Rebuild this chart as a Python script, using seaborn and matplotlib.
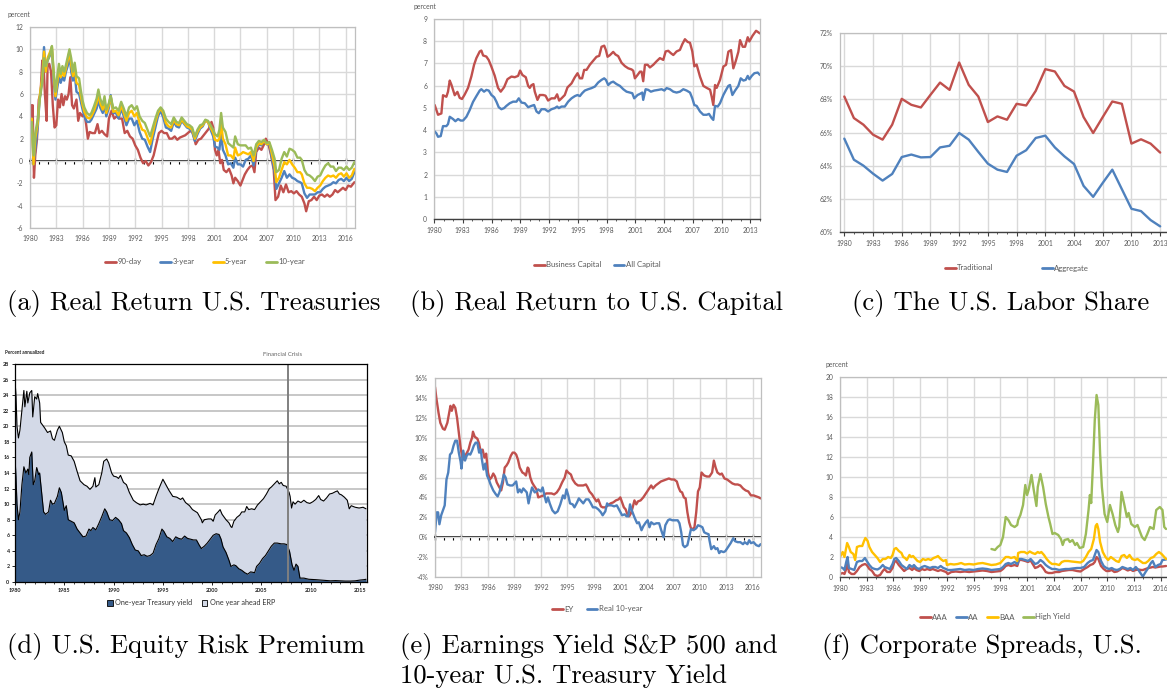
import numpy as np
import pandas as pd
import matplotlib
matplotlib.use("Agg")
import matplotlib.pyplot as plt
import seaborn as sns
from matplotlib.ticker import MultipleLocator, FuncFormatter
from matplotlib.lines import Line2D
from matplotlib.patches import Patch

# ---------------- DATA ----------------
# (a) Real return U.S. Treasuries (percent)
A_YEARS = [
    1980.0, 1980.2, 1980.4, 1980.6, 1980.9,
    1981.1, 1981.4, 1981.6, 1981.8,
    1982.0, 1982.3, 1982.5, 1982.7, 1982.9,
    1983.1, 1983.3, 1983.5, 1983.7, 1983.9,
    1984.1, 1984.3, 1984.5, 1984.7, 1984.9,
    1985.1, 1985.3, 1985.6, 1985.8,
    1986.0, 1986.2, 1986.5, 1986.8,
    1987.0, 1987.3, 1987.6, 1987.8,
    1988.0, 1988.3, 1988.5, 1988.7,
    1989.0, 1989.2, 1989.5, 1989.8,
    1990.1, 1990.4, 1990.7,
    1991.0, 1991.3, 1991.6, 1991.9,
    1992.2, 1992.5, 1992.8,
    1993.1, 1993.4, 1993.7,
    1994.0, 1994.3, 1994.6, 1994.9,
    1995.2, 1995.5, 1995.8,
    1996.1, 1996.4, 1996.7,
    1997.0, 1997.3, 1997.6, 1997.9,
    1998.2, 1998.5, 1998.8,
    1999.1, 1999.4, 1999.7,
    2000.0, 2000.3, 2000.6, 2000.9,
    2001.1, 2001.4, 2001.6, 2001.8,
    2002.0, 2002.3, 2002.6, 2002.9,
    2003.2, 2003.4, 2003.7,
    2004.0, 2004.3, 2004.6, 2004.9,
    2005.2, 2005.5, 2005.8,
    2006.1, 2006.4, 2006.7,
    2007.0, 2007.3, 2007.6, 2007.9,
    2008.1, 2008.4, 2008.7,
    2009.0, 2009.3, 2009.6, 2009.9,
    2010.2, 2010.5, 2010.8,
    2011.0, 2011.3, 2011.6, 2011.9,
    2012.2, 2012.5, 2012.8,
    2013.1, 2013.4, 2013.7,
    2014.0, 2014.3, 2014.6, 2014.9,
    2015.2, 2015.5, 2015.8,
    2016.1, 2016.4, 2016.7,
    2017.0]
A_10Y = [
    2.5, 3.5, 0.5, 2.5, 3.8,
    5.5, 7.0, 9.2, 8.5,
    9.0, 9.6, 10.3, 8.0, 6.2,
    7.5, 8.7, 7.8, 8.5, 8.0,
    8.6, 9.3, 10.0, 9.2, 8.0,
    8.8, 7.6, 7.4, 6.3,
    5.4, 4.8, 4.3, 4.1,
    4.3, 4.9, 5.6, 6.4,
    5.6, 5.0, 5.8, 4.6,
    5.2, 5.8, 4.7, 4.8,
    4.5, 5.3, 4.7,
    4.0, 4.8, 5.0, 4.6,
    4.9, 4.0, 3.6,
    3.4, 2.8, 2.2,
    3.0, 3.8, 4.5, 4.8,
    4.5, 3.8, 3.5,
    3.3, 3.9, 3.5,
    3.4, 3.9, 3.6, 3.3,
    3.2, 3.0, 2.2,
    2.8, 3.2, 3.3,
    3.7, 3.6, 3.2, 2.8,
    2.4, 2.2, 2.8, 4.3,
    3.0, 2.6, 1.6, 1.4,
    1.2, 2.2, 1.5,
    1.4, 1.4, 1.4, 1.1,
    1.2, 0.5, 1.5,
    1.8, 1.7, 1.9,
    1.6, 1.7, 1.0, 0.2,
    -1.0, -0.8, 0.2,
    0.8, 0.4, 1.1, 1.0,
    0.8, 0.3, 0.3,
    0.1, -0.8, -1.2, -1.3,
    -1.5, -1.8, -1.4,
    -1.3, -0.8, -0.4,
    -0.2, -0.5, -0.5, -0.9,
    -0.6, -0.6, -0.8,
    -0.5, -0.8, -0.6,
    -0.1]
A_5Y = [
    2.0, 3.8, -0.3, 2.0, 3.5,
    5.8, 7.5, 9.8, 8.0,
    9.2, 9.8, 10.2, 7.8, 5.8,
    7.0, 8.2, 7.5, 8.0, 7.6,
    8.3, 9.0, 9.8, 8.6, 7.6,
    8.4, 7.0, 6.8, 5.8,
    5.0, 4.4, 3.9, 3.8,
    4.0, 4.5, 5.2, 6.0,
    5.2, 4.6, 5.4, 4.3,
    5.0, 5.8, 4.4, 4.5,
    4.1, 5.0, 4.3,
    3.6, 4.3, 4.5, 4.0,
    4.3, 3.4, 2.8,
    2.7, 2.1, 1.5,
    2.5, 3.5, 4.3, 4.7,
    4.3, 3.4, 3.1,
    3.0, 3.7, 3.3,
    3.2, 3.7, 3.4, 3.1,
    3.0, 2.8, 2.0,
    2.6, 3.0, 3.2,
    3.6, 3.5, 3.0, 2.5,
    1.9, 1.8, 2.0, 3.5,
    2.0, 1.5, 0.5, 0.5,
    0.2, 1.2, 0.5,
    0.6, 0.8, 0.7, 0.6,
    0.8, 0.0, 1.2,
    1.6, 1.5, 1.8,
    1.5, 1.6, 0.6, -0.5,
    -1.9, -1.5, -0.8,
    -0.1, -0.3, 0.1, -0.3,
    -0.6, -1.0, -1.0,
    -1.2, -2.0, -2.4, -2.4,
    -2.5, -2.7, -2.4,
    -2.2, -1.8, -1.5,
    -1.3, -1.4, -1.3, -1.5,
    -1.2, -1.1, -1.4,
    -1.1, -1.5, -1.3,
    -0.7]
A_3Y = [
    3.0, 3.8, -0.3, 1.0, 3.2,
    5.5, 7.5, 10.2, 8.0,
    9.0, 9.5, 10.0, 7.2, 5.5,
    6.5, 7.5, 7.0, 7.5, 7.2,
    8.0, 8.5, 9.5, 8.0, 7.2,
    7.8, 6.2, 6.0, 5.3,
    4.6, 4.0, 3.5, 3.5,
    3.7, 4.2, 4.7, 5.5,
    4.8, 4.3, 5.0, 4.0,
    4.8, 5.9, 4.3, 4.3,
    3.8, 4.7, 4.0,
    3.2, 3.8, 3.8, 3.2,
    3.6, 2.6, 2.0,
    1.9, 1.3, 0.8,
    2.0, 3.0, 4.0, 4.5,
    3.9, 3.0, 2.9,
    2.7, 3.5, 3.1,
    3.0, 3.6, 3.3, 3.0,
    2.9, 2.6, 1.8,
    2.4, 2.9, 3.1,
    3.6, 3.5, 2.8, 2.2,
    1.3, 1.2, 1.0, 2.4,
    1.0, 0.5, -0.3, -0.2,
    -0.6, 0.3, -0.3,
    -0.3, -0.5, 0.1, 0.2,
    0.5, -0.4, 1.0,
    1.5, 1.4, 1.8,
    1.5, 1.5, 0.2, -1.0,
    -2.5, -2.0, -1.5,
    -0.9, -1.5, -1.2, -1.5,
    -1.6, -1.8, -1.9,
    -2.0, -2.9, -3.3, -3.0,
    -3.0, -3.0, -2.8,
    -2.8, -2.5, -2.3,
    -2.2, -2.1, -1.9, -2.0,
    -1.7, -1.6, -1.8,
    -1.5, -1.8, -1.6,
    -1.0]
A_90D_YEARS = [
    1980.0, 1980.1, 1980.2, 1980.3, 1980.45, 1980.6, 1980.8,
    1981.0, 1981.2, 1981.4, 1981.55, 1981.7, 1981.9,
    1982.0, 1982.2, 1982.4, 1982.6, 1982.8,
    1983.0, 1983.2, 1983.4, 1983.6, 1983.8,
    1984.0, 1984.2, 1984.4, 1984.6, 1984.8,
    1985.0, 1985.3, 1985.5, 1985.7,
    1986.0, 1986.2, 1986.4, 1986.6, 1986.8,
    1987.1, 1987.4, 1987.7, 1987.9,
    1988.2, 1988.5, 1988.8,
    1989.0, 1989.3, 1989.6, 1989.9,
    1990.2, 1990.5, 1990.8,
    1991.1, 1991.4, 1991.7,
    1992.0, 1992.3, 1992.6, 1992.9,
    1993.2, 1993.5, 1993.8,
    1994.1, 1994.4, 1994.7,
    1995.0, 1995.3, 1995.6, 1995.9,
    1996.2, 1996.5, 1996.8,
    1997.1, 1997.4, 1997.7,
    1998.0, 1998.3, 1998.6, 1998.9,
    1999.2, 1999.5, 1999.8,
    2000.1, 2000.4, 2000.7, 2000.9,
    2001.1, 2001.3, 2001.5, 2001.7, 2001.9,
    2002.1, 2002.4, 2002.7,
    2003.0, 2003.2, 2003.4, 2003.7,
    2004.0, 2004.2, 2004.5, 2004.8,
    2005.1, 2005.4, 2005.6, 2005.8,
    2006.1, 2006.4, 2006.7, 2006.9,
    2007.2, 2007.5, 2007.8,
    2008.0, 2008.3, 2008.6, 2008.9,
    2009.2, 2009.5, 2009.8,
    2010.1, 2010.4, 2010.7,
    2011.0, 2011.3, 2011.5, 2011.8,
    2012.1, 2012.4, 2012.7,
    2013.0, 2013.3, 2013.6, 2013.9,
    2014.2, 2014.5, 2014.8,
    2015.1, 2015.4, 2015.7,
    2016.0, 2016.3, 2016.6,
    2017.0]
A_90D = [
    2.0, 5.0, 3.0, 5.0, -1.5, 0.5, 2.0,
    5.5, 6.0, 9.0, 8.5, 6.0, 3.6,
    8.5, 8.7, 8.0, 5.0, 3.0,
    3.2, 5.5, 4.8, 6.0, 5.0,
    5.8, 5.5, 6.0, 7.5, 5.0,
    4.7, 5.5, 3.6, 4.3,
    4.0, 4.3, 3.3, 2.0, 2.6,
    2.5, 2.5, 3.3, 2.5,
    2.7, 2.4, 2.2,
    3.8, 4.5, 3.8, 4.0,
    3.8, 3.8, 2.5,
    2.7, 2.2, 2.0,
    1.4, 1.0, 0.3, -0.2,
    0.0, -0.4, -0.1,
    0.5, 1.5, 2.5,
    2.7, 2.5, 2.5, 2.0,
    2.0, 2.2, 1.9,
    2.1, 2.2, 2.3,
    2.5, 2.7, 2.5, 1.5,
    1.9, 2.0, 2.3,
    2.6, 2.9, 3.5, 3.0,
    1.0, 0.5, 1.0, -0.2, 0.1,
    -0.8, -1.0, -0.7,
    -1.3, -2.0, -1.5, -1.8,
    -2.2, -1.8, -1.2, -0.8,
    -0.5, -0.4, -1.0, 0.8,
    1.2, 1.0, 1.5, 2.0,
    1.5, 0.5, -0.8,
    -3.5, -3.2, -2.2, -2.8,
    -2.1, -2.8, -2.7,
    -2.9, -2.7, -3.0,
    -3.2, -3.8, -4.5, -3.6,
    -3.5, -3.2, -3.5,
    -3.1, -3.0, -3.2, -3.0,
    -3.2, -3.0, -2.6,
    -2.8, -2.6, -2.4,
    -2.6, -2.2, -2.3,
    -1.9]

# (b) Real return to U.S. capital (percent)
B_BUS_YEARS = [1980.07, 1980.42, 1980.77, 1980.94, 1981.29, 1981.46, 1981.64, 1981.81, 1982.16, 1982.44,
               1982.68, 1982.92, 1983.2, 1983.55, 1983.9, 1984.18, 1984.42, 1984.77, 1984.94, 1985.12,
               1985.46, 1985.71, 1985.99, 1986.33, 1986.68, 1986.96, 1987.31, 1987.66, 1988.08, 1988.42,
               1988.77, 1988.98, 1989.22, 1989.57, 1989.82, 1989.99, 1990.16, 1990.37, 1990.51, 1990.79,
               1991.03, 1991.38, 1991.63, 1991.9, 1992.25, 1992.6, 1992.84, 1993.05, 1993.3, 1993.64,
               1993.92, 1994.34, 1994.69, 1994.97, 1995.21, 1995.45, 1995.66, 1995.91, 1996.25, 1996.6,
               1996.95, 1997.23, 1997.47, 1997.75, 1997.93, 1998.1, 1998.34, 1998.69, 1998.93, 1999.21,
               1999.56, 1999.91, 2000.26, 2000.61, 2000.78, 2000.95, 2001.23, 2001.48, 2001.65, 2001.82,
               2002.0, 2002.28, 2002.52, 2002.87, 2003.22, 2003.56, 2003.91, 2004.16, 2004.43, 2004.71,
               2004.96, 2005.3, 2005.65, 2005.9, 2006.17, 2006.45, 2006.7, 2006.94, 2007.15, 2007.39,
               2007.74, 2008.09, 2008.44, 2008.79, 2008.96, 2009.13, 2009.31, 2009.48, 2009.83, 2010.18,
               2010.46, 2010.7, 2010.98, 2011.22, 2011.46, 2011.74, 2011.92, 2012.2, 2012.44, 2012.72,
               2012.89, 2013.21, 2013.59, 2014.0]
B_BUS = [5.13, 4.69, 4.75, 5.57, 5.5, 5.73, 6.23, 6.05, 5.57, 5.72,
         5.45, 5.4, 5.6, 5.9, 6.42, 6.94, 7.24, 7.54, 7.58, 7.36,
         7.31, 7.15, 6.85, 6.45, 5.9, 5.73, 5.93, 6.29, 6.41, 6.38,
         6.44, 6.68, 6.48, 6.38, 5.99, 5.9, 6.02, 6.07, 5.73, 5.36,
         5.58, 5.58, 5.55, 5.33, 5.43, 5.43, 5.61, 5.33, 5.43, 5.58,
         5.92, 6.1, 6.38, 6.56, 6.33, 6.33, 6.71, 6.71, 6.94, 7.12,
         7.3, 7.34, 7.75, 7.8, 7.6, 7.3, 7.37, 7.52, 7.4, 7.33,
         7.03, 6.88, 6.78, 6.73, 6.67, 6.33, 6.48, 6.63, 6.63, 6.2,
         6.94, 6.94, 6.82, 6.94, 7.1, 7.24, 7.16, 7.54, 7.57, 7.46,
         7.38, 7.54, 7.61, 7.87, 8.09, 7.97, 7.93, 7.54, 6.87, 6.95,
         6.41, 5.99, 5.9, 5.82, 5.51, 5.13, 6.03, 5.9, 6.26, 6.86,
         6.94, 7.53, 7.6, 6.78, 7.09, 7.52, 8.05, 7.75, 7.75, 8.18,
         7.99, 8.24, 8.47, 8.35]
B_ALL_YEARS = [1980.0, 1980.24, 1980.42, 1980.7, 1980.94, 1981.29, 1981.46, 1981.64, 1981.98, 1982.23,
               1982.51, 1982.78, 1983.03, 1983.38, 1983.72, 1984.07, 1984.42, 1984.77, 1984.94, 1985.22,
               1985.46, 1985.71, 1985.99, 1986.27, 1986.51, 1986.75, 1987.03, 1987.31, 1987.55, 1987.9,
               1988.25, 1988.6, 1988.84, 1989.12, 1989.47, 1989.82, 1990.16, 1990.44, 1990.69, 1990.93,
               1991.21, 1991.56, 1991.9, 1992.25, 1992.6, 1992.84, 1993.02, 1993.3, 1993.64, 1993.99,
               1994.34, 1994.69, 1994.97, 1995.21, 1995.45, 1995.73, 1996.08, 1996.43, 1996.78, 1997.12,
               1997.47, 1997.75, 1997.93, 1998.17, 1998.45, 1998.69, 1999.04, 1999.39, 1999.74, 2000.08,
               2000.43, 2000.68, 2000.88, 2001.23, 2001.48, 2001.72, 2001.82, 2002.07, 2002.35, 2002.62,
               2002.97, 2003.39, 2003.74, 2004.02, 2004.26, 2004.61, 2004.96, 2005.3, 2005.65, 2006.0,
               2006.35, 2006.7, 2006.94, 2007.15, 2007.39, 2007.74, 2008.09, 2008.44, 2008.68, 2008.96,
               2009.13, 2009.31, 2009.59, 2009.83, 2010.18, 2010.46, 2010.7, 2010.87, 2011.12, 2011.4,
               2011.74, 2011.99, 2012.27, 2012.51, 2012.72, 2012.89, 2013.14, 2013.41, 2013.76, 2014.0]
B_ALL = [3.97, 3.86, 3.7, 3.73, 4.18, 4.18, 4.27, 4.6, 4.5, 4.4,
         4.5, 4.43, 4.43, 4.6, 4.9, 5.27, 5.53, 5.78, 5.84, 5.73,
         5.81, 5.78, 5.58, 5.48, 5.28, 5.03, 4.94, 4.99, 5.09, 5.21,
         5.28, 5.28, 5.43, 5.24, 5.21, 5.03, 5.09, 5.13, 4.84, 4.76,
         4.94, 4.94, 4.84, 4.94, 4.99, 5.06, 4.99, 5.06, 5.06, 5.28,
         5.43, 5.53, 5.58, 5.53, 5.66, 5.78, 5.84, 5.89, 5.96, 6.14,
         6.26, 6.33, 6.26, 6.03, 6.14, 6.18, 6.07, 5.99, 5.84, 5.73,
         5.69, 5.66, 5.43, 5.58, 5.63, 5.69, 5.36, 5.84, 5.81, 5.73,
         5.78, 5.81, 5.84, 5.78, 5.89, 5.84, 5.73, 5.69, 5.73, 5.84,
         5.78, 5.69, 5.43, 5.13, 5.09, 4.84, 4.69, 4.69, 4.73, 4.54,
         4.46, 5.09, 5.06, 5.21, 5.58, 5.81, 5.99, 6.03, 5.58, 5.78,
         5.99, 6.33, 6.23, 6.26, 6.44, 6.29, 6.44, 6.56, 6.59, 6.48]

# (c) U.S. labor share (percent of income), annual
C_YEARS = list(range(1980, 2014))
C_TRAD = [68.17, 66.87, 66.47, 65.87, 65.57, 66.47, 68.03, 67.67, 67.51, 68.27,
          69.01, 68.57, 70.22, 68.87, 68.17, 66.63, 66.97, 66.77, 67.73, 67.63,
          68.51, 69.82, 69.68, 68.81, 68.47, 66.93, 65.97, 66.93, 67.87, 67.73,
          65.33, 65.59, 65.33, 64.79]
C_AGG = [65.63, 64.36, 64.0, 63.52, 63.1, 63.5, 64.52, 64.67, 64.5, 64.52,
         65.1, 65.2, 65.97, 65.57, 64.83, 64.12, 63.76, 63.62, 64.6, 64.93,
         65.67, 65.81, 65.1, 64.56, 64.1, 62.78, 62.12, 62.96, 63.76, 62.58,
         61.4, 61.26, 60.72, 60.34]

# (d) U.S. equity risk premium: one-year yield, and yield + one-year-ahead ERP
D_TOP_YEARS = [1980.0, 1980.1, 1980.2, 1980.35, 1980.5, 1980.7, 1980.9, 1981.0, 1981.2, 1981.3,
               1981.5, 1981.7, 1981.8, 1982.0, 1982.2, 1982.3, 1982.5, 1982.6, 1983.0, 1983.3,
               1983.6, 1983.8, 1984.0, 1984.3, 1984.5, 1984.8, 1985.0, 1985.2, 1985.4, 1985.7,
               1986.0, 1986.3, 1986.6, 1987.0, 1987.3, 1987.6, 1987.9, 1988.1, 1988.2, 1988.5,
               1988.8, 1989.0, 1989.3, 1989.5, 1989.8, 1990.0, 1990.3, 1990.5, 1990.7, 1991.0,
               1991.3, 1991.6, 1991.8, 1992.0, 1992.3, 1992.7, 1993.0, 1993.3, 1993.7, 1994.0,
               1994.3, 1994.6, 1995.0, 1995.3, 1995.6, 1996.0, 1996.4, 1996.8, 1997.0, 1997.3,
               1997.7, 1998.0, 1998.5, 1998.9, 1999.0, 1999.2, 1999.6, 1999.9, 2000.1, 2000.3,
               2000.6, 2000.8, 2001.0, 2001.4, 2001.7, 2001.9, 2002.0, 2002.2, 2002.5, 2002.8,
               2003.0, 2003.3, 2003.5, 2003.7, 2004.0, 2004.3, 2004.6, 2004.9, 2005.2, 2005.5,
               2005.8, 2006.0, 2006.3, 2006.6, 2006.8, 2007.0, 2007.2, 2007.5, 2007.8, 2007.9,
               2008.05, 2008.2, 2008.4, 2008.7, 2009.0, 2009.3, 2009.6, 2009.9, 2010.2, 2010.5,
               2010.8, 2011.0, 2011.3, 2011.6, 2011.9, 2012.2, 2012.5, 2012.7, 2012.9, 2013.1,
               2013.4, 2013.7, 2013.9, 2014.1, 2014.5, 2014.9, 2015.3, 2015.6]
D_TOP = [25.8, 24.0, 20.0, 18.5, 19.5, 22.0, 24.6, 22.5, 24.5, 23.0,
         24.3, 24.6, 21.2, 23.8, 23.5, 24.2, 23.0, 20.5, 19.8, 19.2,
         19.4, 18.4, 18.2, 19.5, 20.0, 19.2, 18.0, 17.5, 16.3, 16.2,
         15.5, 14.2, 13.0, 12.5, 12.3, 11.9, 12.3, 13.4, 12.2, 12.5,
         14.0, 15.5, 15.8, 15.3, 14.0, 13.6, 13.5, 13.3, 13.7, 12.8,
         12.5, 11.5, 11.0, 10.5, 10.2, 9.9, 10.0, 9.9, 10.1, 9.9,
         11.0, 12.0, 13.2, 12.5, 11.8, 11.0, 10.9, 10.6, 10.8, 10.2,
         9.8, 9.3, 8.9, 8.0, 7.6, 8.0, 8.1, 8.1, 7.8, 8.6,
         9.0, 9.3, 8.7, 8.0, 7.6, 7.1, 7.0, 7.8, 8.3, 8.6,
         9.0, 9.0, 9.7, 9.3, 9.4, 9.3, 9.9, 10.3, 10.7, 11.3,
         12.0, 12.2, 12.6, 13.0, 12.6, 12.8, 12.4, 12.3, 11.5, 11.0,
         9.5, 10.3, 10.0, 10.4, 10.2, 10.5, 10.2, 10.1, 10.3, 10.6,
         11.1, 10.6, 10.4, 10.8, 11.3, 11.4, 11.6, 11.7, 11.3, 11.2,
         10.9, 10.5, 9.4, 9.8, 9.6, 9.5, 9.6, 9.4]
D_YIELD_YEARS = [1980.0, 1980.1, 1980.2, 1980.35, 1980.5, 1980.7, 1980.9, 1981.1, 1981.3, 1981.4,
                 1981.5, 1981.7, 1981.85, 1982.0, 1982.2, 1982.4, 1982.5, 1982.7, 1982.9, 1983.1,
                 1983.4, 1983.6, 1983.8, 1984.0, 1984.3, 1984.5, 1984.7, 1985.0, 1985.2, 1985.4,
                 1985.7, 1986.0, 1986.3, 1986.6, 1986.9, 1987.2, 1987.5, 1987.7, 1987.9, 1988.2,
                 1988.5, 1988.8, 1989.1, 1989.3, 1989.6, 1989.9, 1990.2, 1990.5, 1990.8, 1991.0,
                 1991.3, 1991.6, 1991.9, 1992.2, 1992.5, 1992.8, 1993.1, 1993.4, 1993.7, 1994.0,
                 1994.3, 1994.6, 1994.9, 1995.1, 1995.4, 1995.7, 1996.0, 1996.3, 1996.6, 1996.9,
                 1997.2, 1997.5, 1997.8, 1998.1, 1998.4, 1998.7, 1998.9, 1999.2, 1999.5, 1999.8,
                 2000.1, 2000.4, 2000.7, 2000.9, 2001.1, 2001.4, 2001.7, 2001.9, 2002.2, 2002.4,
                 2002.7, 2003.0, 2003.3, 2003.6, 2003.9, 2004.3, 2004.5, 2004.8, 2005.1, 2005.4,
                 2005.7, 2006.0, 2006.3, 2006.6, 2007.0, 2007.3, 2007.6, 2007.85, 2008.1, 2008.3,
                 2008.5, 2008.7, 2008.9, 2009.3, 2009.8, 2010.5, 2011.0, 2011.5, 2012.0, 2012.5,
                 2013.0, 2013.5, 2014.0, 2014.5, 2015.0, 2015.4, 2015.6]
D_YIELD = [16.0, 13.5, 10.0, 8.0, 9.0, 12.5, 14.8, 14.0, 14.5, 13.8,
           16.0, 16.7, 12.5, 13.0, 14.7, 13.8, 14.0, 11.5, 9.0, 8.7,
           9.0, 10.5, 10.0, 10.1, 11.0, 12.1, 11.5, 9.2, 9.8, 8.0,
           7.8, 7.6, 6.8, 6.3, 5.8, 5.9, 6.8, 6.6, 7.0, 6.7,
           7.5, 8.4, 9.4, 9.0, 8.0, 7.9, 8.3, 8.0, 7.5, 6.6,
           6.3, 5.7, 4.8, 4.1, 4.0, 3.4, 3.5, 3.3, 3.4, 3.7,
           4.8, 5.6, 6.8, 6.5, 5.8, 5.6, 5.2, 5.8, 5.6, 5.5,
           5.9, 5.6, 5.5, 5.4, 5.4, 4.7, 4.3, 4.6, 5.0, 5.5,
           6.0, 6.2, 6.1, 5.5, 4.5, 3.8, 2.8, 2.0, 2.2, 2.1,
           1.7, 1.5, 1.2, 1.0, 1.3, 1.2, 2.0, 2.4, 3.0, 3.4,
           4.0, 4.6, 5.0, 5.0, 4.9, 4.9, 4.8, 3.9, 2.2, 1.5,
           2.3, 2.0, 0.5, 0.5, 0.35, 0.3, 0.25, 0.2, 0.15, 0.18,
           0.15, 0.12, 0.12, 0.15, 0.25, 0.3, 0.35]

# (e) Earnings yield S&P 500 and real 10-year Treasury yield (percent)
E_EY_YEARS = [1980.0, 1980.15, 1980.4, 1980.6, 1980.9, 1981.1, 1981.4, 1981.6, 1981.75, 1981.9,
              1982.1, 1982.3, 1982.5, 1982.7, 1982.9, 1983.1, 1983.3, 1983.5, 1983.8, 1984.0,
              1984.2, 1984.3, 1984.5, 1984.8, 1985.0, 1985.2, 1985.4, 1985.6, 1985.8, 1986.0,
              1986.2, 1986.4, 1986.6, 1986.8, 1987.0, 1987.3, 1987.5, 1987.7, 1987.9, 1988.1,
              1988.3, 1988.6, 1988.8, 1989.0, 1989.2, 1989.4, 1989.6, 1989.9, 1990.1, 1990.3,
              1990.5, 1990.6, 1990.8, 1991.0, 1991.2, 1991.5, 1991.7, 1992.0, 1992.3, 1992.6,
              1992.9, 1993.2, 1993.5, 1993.8, 1994.1, 1994.4, 1994.7, 1994.9, 1995.1, 1995.4,
              1995.6, 1995.9, 1996.2, 1996.5, 1996.8, 1997.1, 1997.3, 1997.5, 1997.8, 1998.0,
              1998.3, 1998.5, 1998.8, 1999.0, 1999.3, 1999.6, 1999.9, 2000.2, 2000.5, 2000.8,
              2001.0, 2001.2, 2001.4, 2001.6, 2001.8, 2002.0, 2002.2, 2002.4, 2002.6, 2002.8,
              2003.0, 2003.3, 2003.6, 2003.9, 2004.2, 2004.5, 2004.7, 2005.0, 2005.3, 2005.6,
              2005.9, 2006.2, 2006.5, 2006.8, 2007.1, 2007.4, 2007.6, 2007.8, 2008.0, 2008.2,
              2008.4, 2008.6, 2008.8, 2009.0, 2009.2, 2009.4, 2009.6, 2009.8, 2010.0, 2010.2,
              2010.5, 2010.8, 2011.1, 2011.4, 2011.6, 2011.8, 2012.0, 2012.3, 2012.5, 2012.8,
              2013.1, 2013.4, 2013.7, 2014.0, 2014.3, 2014.6, 2014.9, 2015.2, 2015.5, 2015.8,
              2016.1, 2016.4, 2016.7, 2016.9]
E_EY = [15.1, 14.0, 12.5, 11.5, 10.9, 10.8, 11.5, 12.5, 13.2, 12.7,
        13.3, 13.0, 12.0, 10.5, 9.0, 8.0, 7.8, 8.3, 8.8, 9.5,
        10.0, 10.6, 10.1, 9.9, 9.4, 8.5, 8.8, 8.0, 8.4, 6.5,
        5.8, 6.0, 6.4, 6.1, 5.5, 5.0, 4.7, 5.5, 7.0, 7.2,
        7.5, 8.2, 8.5, 8.5, 8.3, 7.8, 7.0, 6.5, 6.4, 6.2,
        7.0, 6.9, 6.0, 5.5, 5.2, 4.8, 4.0, 4.1, 4.2, 4.4,
        4.4, 4.4, 4.3, 4.5, 4.9, 5.5, 6.0, 6.7, 6.5, 6.3,
        5.8, 5.4, 5.2, 5.2, 5.2, 5.3, 5.0, 4.6, 4.3, 4.0,
        3.6, 3.8, 3.1, 3.0, 3.0, 3.2, 3.4, 3.5, 3.7, 3.8,
        4.0, 3.5, 3.0, 2.8, 2.3, 2.1, 2.4, 3.0, 3.7, 3.3,
        3.6, 3.7, 4.0, 4.4, 4.8, 5.2, 4.9, 5.2, 5.4, 5.6,
        5.7, 5.8, 5.9, 5.8, 5.8, 5.6, 5.0, 4.6, 4.5, 4.0,
        3.9, 2.5, 1.5, 0.9, 0.8, 1.0, 2.5, 4.6, 5.0, 6.5,
        6.2, 6.1, 6.1, 6.5, 7.7, 7.0, 6.5, 6.3, 6.4, 5.9,
        5.8, 5.6, 5.4, 5.3, 5.3, 5.2, 4.9, 4.7, 4.6, 4.2,
        4.2, 4.1, 4.0, 3.9]
E_R10_YEARS = [1980.0, 1980.2, 1980.35, 1980.5, 1980.7, 1980.9, 1981.1, 1981.3, 1981.5, 1981.7,
               1981.9, 1982.1, 1982.3, 1982.5, 1982.7, 1982.9, 1983.0, 1983.2, 1983.4, 1983.6,
               1983.8, 1984.0, 1984.2, 1984.4, 1984.6, 1984.8, 1985.0, 1985.2, 1985.3, 1985.5,
               1985.7, 1985.9, 1986.1, 1986.3, 1986.6, 1986.9, 1987.1, 1987.3, 1987.6, 1987.8,
               1988.0, 1988.2, 1988.5, 1988.8, 1989.0, 1989.2, 1989.4, 1989.6, 1989.8, 1990.0,
               1990.2, 1990.4, 1990.6, 1990.8, 1991.0, 1991.3, 1991.5, 1991.7, 1992.0, 1992.2,
               1992.4, 1992.6, 1992.8, 1993.0, 1993.3, 1993.6, 1993.9, 1994.2, 1994.5, 1994.7,
               1994.9, 1995.1, 1995.3, 1995.6, 1995.8, 1996.1, 1996.3, 1996.6, 1996.8, 1997.1,
               1997.4, 1997.6, 1997.9, 1998.2, 1998.5, 1998.8, 1999.0, 1999.3, 1999.5, 1999.7,
               2000.0, 2000.3, 2000.6, 2000.9, 2001.2, 2001.5, 2001.7, 2001.9, 2002.1, 2002.3,
               2002.6, 2002.9, 2003.1, 2003.4, 2003.6, 2003.9, 2004.1, 2004.3, 2004.5, 2004.8,
               2005.1, 2005.4, 2005.6, 2005.9, 2006.1, 2006.4, 2006.6, 2006.9, 2007.2, 2007.5,
               2007.7, 2007.9, 2008.1, 2008.3, 2008.6, 2008.8, 2009.0, 2009.3, 2009.6, 2009.8,
               2010.1, 2010.3, 2010.5, 2010.7, 2011.0, 2011.1, 2011.3, 2011.6, 2011.8, 2012.0,
               2012.2, 2012.4, 2012.7, 2012.9, 2013.2, 2013.5, 2013.8, 2014.0, 2014.3, 2014.6,
               2014.9, 2015.1, 2015.4, 2015.6, 2015.8, 2016.1, 2016.4, 2016.7, 2016.9]
E_R10 = [0.5, 2.5, 2.5, 1.3, 2.2, 2.7, 3.2, 5.8, 6.5, 8.3,
         8.5, 9.2, 9.7, 9.7, 8.5, 7.6, 6.9, 8.7, 7.7, 8.2,
         8.4, 8.3, 8.7, 9.2, 9.5, 9.5, 8.5, 8.8, 7.9, 6.8,
         7.4, 6.2, 5.8, 5.3, 4.7, 4.3, 4.1, 4.5, 5.5, 6.3,
         6.0, 5.3, 5.2, 5.2, 5.4, 5.6, 4.5, 4.8, 4.5, 4.9,
         4.7, 4.5, 3.4, 4.3, 5.0, 4.5, 4.6, 4.8, 4.6, 5.0,
         4.2, 3.5, 4.0, 3.4, 2.7, 2.4, 2.6, 3.3, 4.2, 3.9,
         4.8, 4.2, 3.4, 3.3, 3.0, 3.5, 3.9, 3.6, 3.4, 3.8,
         3.8, 3.5, 3.0, 3.0, 2.8, 2.5, 2.2, 2.6, 3.4, 3.2,
         3.2, 3.1, 3.2, 2.7, 2.2, 2.3, 2.1, 2.1, 3.3, 2.7,
         2.0, 1.4, 1.5, 0.7, 1.1, 1.5, 1.7, 1.0, 1.5, 1.3,
         1.4, 1.4, 0.8, 0.0, 1.2, 1.7, 1.8, 1.7, 1.7, 1.7,
         1.4, 0.5, -0.8, -1.0, -0.8, 0.0, 0.8, 0.7, 0.9, 1.2,
         1.1, 1.0, 0.5, 0.4, 0.3, -0.3, -1.2, -0.9, -1.2, -1.1,
         -1.6, -1.4, -1.5, -1.4, -1.0, -0.6, -0.1, -0.4, -0.5, -0.5,
         -0.7, -0.5, -0.7, -0.3, -0.6, -0.5, -0.8, -0.9, -0.7]

# (f) Corporate spreads, U.S. (percent)
F_IG_YEARS = [1980.0, 1980.3, 1980.5, 1980.7, 1980.85, 1981.0, 1981.3, 1981.6, 1981.9, 1982.2,
              1982.5, 1982.8, 1983.0, 1983.3, 1983.6, 1983.9, 1984.2, 1984.5, 1984.8, 1985.0,
              1985.3, 1985.6, 1985.9, 1986.1, 1986.3, 1986.6, 1986.9, 1987.2, 1987.5, 1987.8,
              1988.1, 1988.3, 1988.6, 1988.9, 1989.2, 1989.5, 1989.8, 1990.1, 1990.4, 1990.7,
              1991.0, 1991.3, 1991.6, 1991.9, 1992.1, 1992.5, 1993.0, 1993.5, 1994.0, 1994.5,
              1995.0, 1995.5, 1996.0, 1996.5, 1997.0, 1997.5, 1998.0, 1998.3, 1998.6, 1998.9,
              1999.2, 1999.6, 1999.9, 2000.1, 2000.4, 2000.8, 2001.1, 2001.4, 2001.7, 2001.9,
              2002.2, 2002.5, 2002.8, 2003.1, 2003.4, 2003.8, 2004.2, 2004.6, 2004.9, 2005.3,
              2005.7, 2006.1, 2006.6, 2007.0, 2007.4, 2007.8, 2008.1, 2008.4, 2008.6, 2008.8,
              2009.0, 2009.3, 2009.6, 2009.9, 2010.2, 2010.5, 2010.8, 2011.1, 2011.4, 2011.7,
              2012.0, 2012.3, 2012.6, 2012.9, 2013.2, 2013.5, 2013.8, 2014.0, 2014.3, 2014.6,
              2014.9, 2015.1, 2015.4, 2015.7, 2016.0, 2016.2, 2016.6]
F_AAA = [0.3, 0.4, 0.3, 0.8, 1.5, 0.5, 0.3, 0.3, 0.6, 1.0,
         1.2, 1.3, 1.2, 0.8, 0.6, 0.2, 0.1, 0.2, 0.6, 0.8,
         0.5, 0.5, 0.9, 1.5, 1.6, 1.2, 0.9, 0.6, 0.8, 0.9,
         0.7, 0.9, 0.7, 0.6, 0.8, 0.7, 0.8, 0.7, 0.8, 0.7,
         0.6, 0.7, 0.6, 0.5, 0.3, 0.5, 0.55, 0.5, 0.55, 0.5,
         0.55, 0.6, 0.65, 0.6, 0.5, 0.55, 0.6, 0.8, 1.1, 1.2,
         1.1, 1.2, 1.1, 1.7, 1.7, 1.6, 1.5, 1.65, 1.2, 0.9,
         1.0, 1.2, 0.9, 0.5, 0.4, 0.4, 0.5, 0.5, 0.6, 0.65,
         0.7, 0.7, 0.6, 0.55, 0.8, 1.0, 1.2, 1.3, 1.5, 2.0,
         1.8, 1.1, 0.8, 0.6, 0.6, 0.7, 0.5, 0.55, 0.7, 0.9,
         0.8, 0.65, 0.75, 0.6, 0.7, 0.75, 0.7, 0.7, 0.8, 0.9,
         0.95, 1.0, 0.95, 1.0, 1.05, 1.05, 1.1]
F_AA = [1.0, 0.9, 0.7, 1.5, 2.0, 0.9, 0.8, 0.7, 1.5, 1.6,
        1.6, 1.9, 1.6, 1.2, 0.9, 0.8, 0.75, 0.9, 1.2, 1.0,
        0.9, 0.8, 1.3, 1.8, 1.9, 1.6, 1.2, 1.0, 0.8, 1.2,
        1.0, 1.2, 0.9, 0.8, 1.0, 1.1, 1.0, 0.9, 1.0, 1.0,
        0.9, 1.1, 0.9, 0.8, 0.7, 0.7, 0.75, 0.8, 0.7, 0.75,
        0.7, 0.8, 0.85, 0.8, 0.7, 0.75, 0.8, 1.0, 1.3, 1.4,
        1.3, 1.5, 1.3, 1.8, 1.8, 1.7, 1.6, 1.8, 1.5, 1.3,
        1.4, 1.7, 1.5, 1.2, 1.0, 0.8, 0.8, 0.7, 0.75, 0.8,
        0.8, 0.85, 0.9, 0.9, 1.0, 1.4, 1.6, 1.7, 2.2, 2.7,
        2.5, 1.6, 1.1, 0.9, 0.8, 0.9, 0.75, 0.7, 0.8, 1.0,
        0.9, 0.8, 0.9, 0.7, 1.0, 0.7, 0.3, 0.05, 0.5, 0.9,
        1.4, 1.6, 1.0, 1.2, 1.3, 1.7, 1.75]
F_BAA_YEARS = [1980.0, 1980.3, 1980.5, 1980.8, 1981.0, 1981.2, 1981.5, 1981.7, 1981.9, 1982.2,
               1982.5, 1982.7, 1982.85, 1983.1, 1983.3, 1983.6, 1983.9, 1984.2, 1984.5, 1984.8,
               1985.1, 1985.4, 1985.7, 1985.9, 1986.1, 1986.3, 1986.6, 1986.9, 1987.1, 1987.3,
               1987.5, 1987.8, 1988.0, 1988.2, 1988.5, 1988.7, 1989.0, 1989.3, 1989.6, 1989.9,
               1990.2, 1990.5, 1990.8, 1991.0, 1991.3, 1991.6, 1991.9, 1992.0, 1992.4, 1992.8,
               1993.2, 1993.6, 1994.0, 1994.5, 1995.0, 1995.5, 1996.0, 1996.5, 1997.0, 1997.5,
               1998.0, 1998.3, 1998.6, 1998.9, 1999.2, 1999.6, 1999.9, 2000.0, 2000.3, 2000.7,
               2001.0, 2001.3, 2001.6, 2001.9, 2002.2, 2002.4, 2002.6, 2002.9, 2003.2, 2003.5,
               2003.8, 2004.2, 2004.6, 2004.9, 2005.2, 2005.6, 2006.0, 2006.5, 2007.0, 2007.3,
               2007.6, 2007.9, 2008.2, 2008.5, 2008.7, 2008.85, 2009.0, 2009.2, 2009.5, 2009.8,
               2010.1, 2010.4, 2010.7, 2011.0, 2011.3, 2011.6, 2011.9, 2012.2, 2012.5, 2012.8,
               2013.1, 2013.4, 2013.7, 2014.0, 2014.3, 2014.6, 2014.9, 2015.2, 2015.5, 2015.8,
               2016.1, 2016.4, 2016.6]
F_BAA = [2.0, 2.5, 2.0, 3.4, 3.0, 2.5, 2.3, 1.7, 3.0, 3.1,
         3.1, 3.6, 3.9, 3.6, 3.0, 2.5, 2.2, 1.9, 1.5, 1.8,
         1.8, 2.0, 1.9, 2.2, 2.8, 2.9, 2.6, 2.4, 2.0, 1.9,
         1.7, 2.2, 2.0, 2.1, 1.8, 1.6, 1.5, 1.8, 1.7, 1.8,
         1.7, 1.9, 2.0, 2.1, 1.8, 1.6, 1.7, 1.2, 1.3, 1.25,
         1.3, 1.4, 1.25, 1.3, 1.25, 1.35, 1.4, 1.3, 1.2, 1.25,
         1.4, 1.7, 2.0, 2.0, 1.9, 2.0, 1.6, 2.4, 2.5, 2.5,
         2.35, 2.55, 2.4, 2.3, 2.5, 2.4, 2.5, 2.2, 1.8, 1.5,
         1.3, 1.3, 1.2, 1.5, 1.6, 1.6, 1.55, 1.5, 1.45, 1.6,
         2.0, 2.5, 2.8, 3.8, 5.1, 5.3, 4.8, 3.5, 2.5, 2.0,
         1.7, 2.0, 1.8, 1.6, 1.5, 2.1, 2.2, 1.9, 2.2, 1.8,
         1.7, 1.8, 1.6, 1.4, 1.4, 1.6, 1.9, 2.0, 2.3, 2.5,
         2.3, 2.0, 1.8]
F_HY_YEARS = [1997.0, 1997.4, 1997.7, 1998.0, 1998.3, 1998.6, 1998.9, 1999.2, 1999.6, 1999.9,
              2000.0, 2000.25, 2000.55, 2000.8, 2001.0, 2001.2, 2001.5, 2001.75, 2002.05, 2002.2,
              2002.5, 2002.8, 2003.1, 2003.4, 2003.6, 2003.85, 2004.1, 2004.5, 2004.8, 2005.0,
              2005.2, 2005.6, 2005.8, 2006.1, 2006.4, 2006.6, 2006.9, 2007.3, 2007.6, 2007.9,
              2008.05, 2008.2, 2008.4, 2008.6, 2008.8, 2009.0, 2009.2, 2009.4, 2009.7, 2010.0,
              2010.3, 2010.6, 2010.9, 2011.2, 2011.35, 2011.6, 2011.9, 2012.2, 2012.4, 2012.7,
              2013.1, 2013.4, 2013.6, 2013.9, 2014.2, 2014.5, 2014.8, 2015.2, 2015.5, 2015.9,
              2016.2, 2016.4, 2016.6]
F_HY = [2.8, 2.7, 3.0, 3.2, 4.0, 6.0, 5.7, 5.2, 5.0, 5.2,
        5.7, 6.2, 7.2, 9.2, 8.2, 8.8, 10.2, 8.7, 7.1, 9.0,
        10.3, 9.0, 7.3, 6.0, 5.3, 4.3, 4.4, 4.2, 3.8, 3.2,
        3.7, 3.8, 3.5, 3.7, 3.2, 3.4, 2.9, 3.0, 4.3, 6.7,
        8.2, 7.4, 11.3, 15.7, 18.2, 17.2, 12.3, 9.0, 6.3, 5.5,
        7.2, 6.3, 5.2, 4.5, 5.0, 8.5, 7.3, 6.0, 6.4, 5.3,
        5.0, 5.2, 4.7, 4.0, 3.7, 4.3, 5.0, 4.8, 6.7, 7.0,
        6.7, 5.0, 4.8]

# ---------------- STYLE ----------------
sns.set_theme(style="white")
plt.rcParams['font.family'] = ['Lato', 'DejaVu Sans']
plt.rcParams['axes.unicode_minus'] = False

W, H = 1167, 690
fig = plt.figure(figsize=(W / 100, H / 100), dpi=100)
fig.patch.set_facecolor('white')

GRID = '#D9D9D9'; FRAME = '#BFBFBF'; TXT = '#595959'; DARK = '#404040'
RED = '#C0504D'; BLUE = '#4F81BD'; GOLD = '#FFC000'; GREEN = '#9BBB59'
DFILL = '#355A88'; LFILL = '#D3D9E7'
TICK_FS = 4.9; LEG_FS = 5.6; LW = 1.7


def add_ax(l, t, r, b):
    return fig.add_axes([l / W, 1 - b / H, (r - l) / W, (b - t) / H])


def excel_axes(ax, xlim, ylim, ystep, pct=False, dark_bottom=False, zero=False):
    ax.set_xlim(*xlim); ax.set_ylim(*ylim)
    ax.xaxis.set_major_locator(MultipleLocator(3))
    ax.yaxis.set_major_locator(MultipleLocator(ystep))
    ax.xaxis.set_major_formatter(FuncFormatter(lambda v, p: f"{v:.0f}"))
    if pct:
        ax.yaxis.set_major_formatter(FuncFormatter(lambda v, p: f"{v:.0f}%"))
    else:
        ax.yaxis.set_major_formatter(FuncFormatter(lambda v, p: f"{v:.0f}"))
    ax.grid(True, which='major', color=GRID, lw=1.0)
    ax.set_axisbelow(True)
    for s in ax.spines.values():
        s.set_visible(True); s.set_color(FRAME); s.set_linewidth(0.9)
    ax.tick_params(axis='both', which='major', length=0, pad=5, labelsize=TICK_FS, labelcolor=TXT)
    ax.set_xlabel(''); ax.set_ylabel('')
    if dark_bottom:
        ax.spines['bottom'].set_color(DARK); ax.spines['bottom'].set_linewidth(1.0)
        ax.xaxis.set_minor_locator(MultipleLocator(1))
        ax.tick_params(axis='x', which='major', bottom=True, length=3, width=0.8, color=DARK,
                       direction='out', pad=3)
        ax.tick_params(axis='x', which='minor', bottom=True, length=1.6, width=0.6, color=DARK,
                       direction='out')
    if zero:
        frac = (0 - ylim[0]) / (ylim[1] - ylim[0])
        sec = ax.secondary_xaxis(frac)
        sec.xaxis.set_major_locator(MultipleLocator(3))
        sec.xaxis.set_minor_locator(MultipleLocator(1))
        sec.spines['bottom'].set_color('black'); sec.spines['bottom'].set_linewidth(1.2)
        sec.tick_params(axis='x', which='major', bottom=True, direction='inout', length=4,
                        width=1.0, color='black', labelbottom=False)
        sec.tick_params(axis='x', which='minor', bottom=True, direction='out', length=2,
                        width=0.8, color='black', labelbottom=False)


def draw_line(ax, xs, ys, color, lw=LW):
    sns.lineplot(x=np.asarray(xs, float), y=np.asarray(ys, float), ax=ax, color=color,
                 linewidth=lw, estimator=None, legend=False)


def excel_legend(colors, labels, cx, cy, colsp):
    handles = [Line2D([], [], color=c, lw=2.0) for c in colors]
    fig.legend(handles, labels, loc='center', bbox_to_anchor=(cx / W, 1 - cy / H),
               ncol=len(labels), frameon=False, fontsize=LEG_FS, handlelength=1.4,
               handletextpad=0.15, columnspacing=colsp, labelcolor=TXT,
               borderaxespad=0, borderpad=0)


CAP = dict(family='cmr10', fontsize=19.2, color='black', va='baseline', ha='left')

# ---------------- (a) ----------------
ax = add_ax(30, 27, 355, 228)
draw_line(ax, A_90D_YEARS, A_90D, RED)
draw_line(ax, A_YEARS, A_3Y, BLUE)
draw_line(ax, A_YEARS, A_5Y, GOLD)
draw_line(ax, A_YEARS, A_10Y, GREEN)
excel_axes(ax, (1980, 2017.07), (-6, 12), 2, zero=True)
fig.text(8 / W, 1 - 15 / H, 'percent', fontsize=4.9, color=TXT, va='center')
excel_legend([RED, BLUE, GOLD, GREEN], ['90-day', '3-year', '5-year', '10-year'], 205, 262, 2.4)
fig.text(7 / W, 1 - 310 / H, '(a) Real Return U.S. Treasuries', **CAP)

# ---------------- (b) ----------------
ax = add_ax(434, 19, 760, 219)
draw_line(ax, B_BUS_YEARS, B_BUS, RED)
draw_line(ax, B_ALL_YEARS, B_ALL, BLUE)
excel_axes(ax, (1980, 2014.0), (0, 9), 1, dark_bottom=True)
fig.text(413 / W, 1 - 6 / H, 'percent', fontsize=4.9, color=TXT, va='center')
excel_legend([RED, BLUE], ['Business Capital', 'All Capital'], 597, 265, 1.6)
fig.text(410 / W, 1 - 310 / H, '(b) Real Return to U.S. Capital', **CAP)

# ---------------- (c) ----------------
ax = add_ax(840, 33, 1168, 232)
draw_line(ax, C_YEARS, C_TRAD, RED)
draw_line(ax, C_YEARS, C_AGG, BLUE)
excel_axes(ax, (1979.55, 2013.82), (60, 72), 2, pct=True, dark_bottom=True)
excel_legend([RED, BLUE], ['Traditional', 'Aggregate'], 1017, 268, 6.2)
fig.text(852 / W, 1 - 310 / H, '(c) The U.S. Labor Share', **CAP)

# ---------------- (d) ----------------
ax = add_ax(15, 364, 367, 582)
ax.fill_between(np.asarray(D_TOP_YEARS), 0, np.asarray(D_TOP), color=LFILL, lw=0)
ax.fill_between(np.asarray(D_YIELD_YEARS), 0, np.asarray(D_YIELD), color=DFILL, lw=0)
draw_line(ax, D_TOP_YEARS, D_TOP, 'black', lw=0.8)
draw_line(ax, D_YIELD_YEARS, D_YIELD, 'black', lw=0.8)
ax.set_xlim(1980, 2015.7); ax.set_ylim(0, 28)
ax.xaxis.set_major_locator(MultipleLocator(5)); ax.xaxis.set_minor_locator(MultipleLocator(1))
ax.yaxis.set_major_locator(MultipleLocator(2))
ax.xaxis.set_major_formatter(FuncFormatter(lambda v, p: f"{v:.0f}"))
ax.grid(axis='y', color='#BDBDBD', lw=1.2); ax.grid(axis='x', visible=False)
ax.set_axisbelow(True)
ax.axvline(2007.7, color='#808080', lw=1.4)
for s in ax.spines.values():
    s.set_visible(True); s.set_color('black'); s.set_linewidth(0.9)
ax.tick_params(axis='both', which='major', labelsize=3.9, labelcolor='#222222', pad=2,
               length=2, width=0.6, color='black', direction='out', bottom=True, left=True)
ax.tick_params(axis='x', which='minor', bottom=True, length=1.2, width=0.5, color='black')
for lab in ax.get_xticklabels() + ax.get_yticklabels():
    lab.set_fontweight('bold')
ax.set_xlabel(''); ax.set_ylabel('')
fig.text(5 / W, 1 - 353 / H, 'Percent annualized', fontsize=3.3, fontweight='bold',
         color='#222222', va='center')
fig.text(283 / W, 1 - 355 / H, 'Financial Crisis', fontsize=4.3, color='#666666',
         va='center', ha='center')
dh = [Patch(facecolor=DFILL, edgecolor='black', lw=0.6),
      Patch(facecolor=LFILL, edgecolor='black', lw=0.6)]
fig.legend(dh, ['One-year Treasury yield', 'One year ahead ERP'], loc='center',
           bbox_to_anchor=(191 / W, 1 - 603 / H), ncol=2, frameon=False, fontsize=5.2,
           handlelength=0.8, handleheight=0.8, handletextpad=0.3, columnspacing=1.3,
           labelcolor='#333333', borderaxespad=0, borderpad=0)
fig.text(7 / W, 1 - 653 / H, '(d) U.S. Equity Risk Premium', **CAP)

# ---------------- (e) ----------------
ax = add_ax(435, 378, 761, 577)
draw_line(ax, E_EY_YEARS, E_EY, RED)
draw_line(ax, E_R10_YEARS, E_R10, BLUE)
excel_axes(ax, (1980, 2016.94), (-4, 16), 2, pct=True, zero=True)
excel_legend([RED, BLUE], ['EY', 'Real 10-year'], 597, 609, 1.7)
fig.text(400 / W, 1 - 653 / H, '(e) Earnings Yield S&P 500 and', **CAP)
fig.text(400 / W, 1 - 683 / H, '10-year U.S. Treasury Yield', **CAP)

# ---------------- (f) ----------------
ax = add_ax(840, 377, 1168, 577)
draw_line(ax, F_IG_YEARS, F_AAA, RED)
draw_line(ax, F_IG_YEARS, F_AA, BLUE)
draw_line(ax, F_BAA_YEARS, F_BAA, GOLD)
draw_line(ax, F_HY_YEARS, F_HY, GREEN)
excel_axes(ax, (1980, 2016.82), (0, 20), 2, dark_bottom=True)
fig.text(826 / W, 1 - 365 / H, 'percent', fontsize=4.9, color=TXT, va='center')
excel_legend([RED, BLUE, GOLD, GREEN], ['AAA', 'AA', 'BAA', 'High Yield'], 995, 617, 1.1)
fig.text(822 / W, 1 - 653 / H, '(f) Corporate Spreads, U.S.', **CAP)

fig.savefig('out.png', dpi=100, facecolor='white')
